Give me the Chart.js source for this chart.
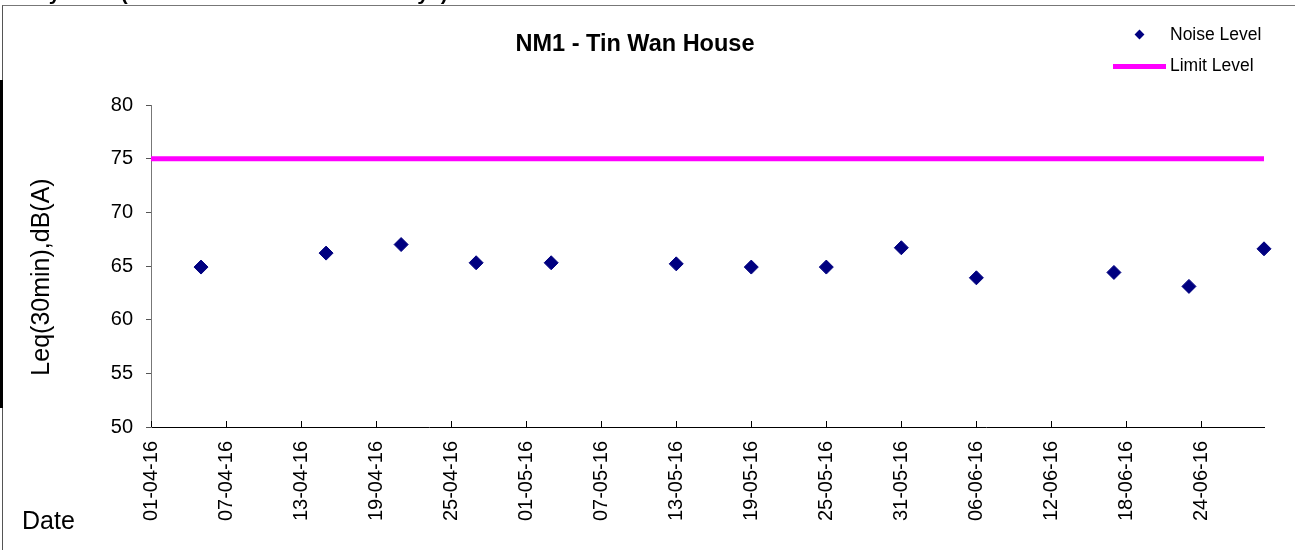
<!DOCTYPE html>
<html>
<head>
<meta charset="utf-8">
<script src="https://cdn.jsdelivr.net/npm/chart.js@4"></script>
<style>
  body { margin: 0; background: #fff; font-family: "Liberation Sans", Arial, sans-serif; }
  #wrap { position: relative; width: 1295px; height: 550px; overflow: hidden; }
  #myChart { position: absolute; left: 0; top: 0; }
  .frame { position: absolute; left: 2px; top: 5px; width: 1400px; height: 600px; border-left: 1px solid #555; border-top: 1px solid #777; }
  .bar { position: absolute; left: 0; top: 80px; width: 3px; height: 328px; background: #000; }
  .cut { position: absolute; left: 22px; top: -18px; font-weight: bold; font-size: 21px; line-height: 21px; white-space: nowrap; }
  .title { position: absolute; left: 635px; top: 30px; transform: translateX(-50%); font-weight: bold; font-size: 23.5px; white-space: nowrap; }
  .ytitle { position: absolute; left: 40px; top: 277px; transform: translate(-50%, -50%) rotate(-90deg); font-size: 25px; white-space: nowrap; }
  .xtitle { position: absolute; left: 22px; top: 506px; font-size: 25px; }
  .leg { position: absolute; font-size: 17.5px; white-space: nowrap; }
  .diamond { position: absolute; left: 1136px; top: 31px; width: 7px; height: 7px; background: #000080; transform: rotate(45deg); }
  .lline { position: absolute; left: 1113px; top: 64px; width: 53px; height: 5px; background: #ff00ff; }
</style>
</head>
<body>
<div id="wrap">
  <canvas id="myChart" width="1295" height="550"></canvas>
  <div class="frame"></div>
  <div class="bar"></div>
  <div class="cut">Day Time (0700-1900 on normal weekdays)</div>
  <div class="title">NM1 - Tin Wan House</div>
  <div class="ytitle">Leq(30min),dB(A)</div>
  <div class="xtitle">Date</div>
  <div class="diamond"></div>
  <div class="leg" style="left:1170px; top:24px;">Noise Level</div>
  <div class="lline"></div>
  <div class="leg" style="left:1170px; top:55px;">Limit Level</div>
</div>
<script>
const axisStart = '01-04-16';
const axisEnd = '29-06-16';

const tickLabels = ['01-04-16', '07-04-16', '13-04-16', '19-04-16', '25-04-16', '01-05-16', '07-05-16',
  '13-05-16', '19-05-16', '25-05-16', '31-05-16', '06-06-16', '12-06-16', '18-06-16', '24-06-16'];

const noiseDates = ['05-04-16', '15-04-16', '21-04-16', '27-04-16', '03-05-16', '13-05-16', '19-05-16',
  '25-05-16', '31-05-16', '06-06-16', '17-06-16', '23-06-16', '29-06-16'];
const noiseLevels = [64.9, 66.2, 67.0, 65.3, 65.3, 65.2, 64.9, 64.9, 66.7, 63.9, 64.4, 63.1, 66.6];

const limitDates = ['01-04-16', '29-06-16'];
const limitLevels = [75, 75];

const yTicks = [50, 55, 60, 65, 70, 75, 80];

// dd-mm-yy -> days since axisStart
const toUtc = s => {
  const [d, m, y] = s.split('-').map(Number);
  return Date.UTC(2000 + y, m - 1, d);
};
const dayOf = s => Math.round((toUtc(s) - toUtc(axisStart)) / 86400000);

const toPoints = (dates, values) => dates.map((d, i) => ({ x: dayOf(d), y: values[i] }));

// x ticks sit inside the plot, pointing up from the axis
const innerTicks = {
  id: 'innerTicks',
  afterDraw(chart) {
    const xs = chart.scales.x;
    const c = chart.ctx;
    c.save();
    c.strokeStyle = '#000';
    c.lineWidth = 1;
    c.beginPath();
    for (const t of xs.ticks) {
      const px = Math.round(xs.getPixelForValue(t.value)) + 0.5;
      c.moveTo(px, xs.top);
      c.lineTo(px, xs.top - 6);
    }
    c.stroke();
    c.restore();
  }
};

Chart.defaults.font.family = '"Liberation Sans", Arial, sans-serif';
Chart.defaults.color = '#000';

const ctx = document.getElementById('myChart');
const chart = new Chart(ctx, {
  type: 'scatter',
  data: {
    datasets: [{
      label: 'Limit Level',
      data: toPoints(limitDates, limitLevels),
      showLine: true,
      borderColor: '#ff00ff',
      borderWidth: 5,
      pointRadius: 0,
      borderCapStyle: 'butt',
      clip: false,
    },
    {
      label: 'Noise Level',
      data: toPoints(noiseDates, noiseLevels),
      pointStyle: 'rectRot',
      pointRadius: 7,
      backgroundColor: '#000080',
      borderColor: '#000080',
      borderWidth: 1,
      clip: false,
    }]
  },
  plugins: [innerTicks],
  options: {
    responsive: false,
    animation: false,
    layout: { padding: { top: 105, right: 31, left: 0, bottom: 0 } },
    plugins: {
      legend: { display: false },
      tooltip: { enabled: false },
    },
    scales: {
      x: {
        type: 'linear',
        min: 0,
        max: dayOf(axisEnd),
        afterBuildTicks: scale => {
          scale.ticks = tickLabels.map(l => ({ value: dayOf(l) }));
        },
        afterFit: scale => { scale.height = 123; },
        ticks: {
          autoSkip: false,
          minRotation: 90,
          maxRotation: 90,
          padding: 14,
          font: { size: 20 },
          callback: value => tickLabels.find(l => dayOf(l) === value) || '',
        },
        grid: { display: true, drawOnChartArea: false, drawTicks: false },
        border: { color: '#000', width: 1 },
      },
      y: {
        min: 50,
        max: 80,
        afterBuildTicks: scale => {
          scale.ticks = yTicks.map(v => ({ value: v }));
        },
        afterFit: scale => { scale.width = 151; },
        ticks: {
          padding: 13,
          font: { size: 20 },
        },
        grid: { drawOnChartArea: false, drawTicks: true, tickLength: 5, color: '#555' },
        border: { color: '#777', width: 1 },
      }
    }
  }
});
</script>
</body>
</html>
